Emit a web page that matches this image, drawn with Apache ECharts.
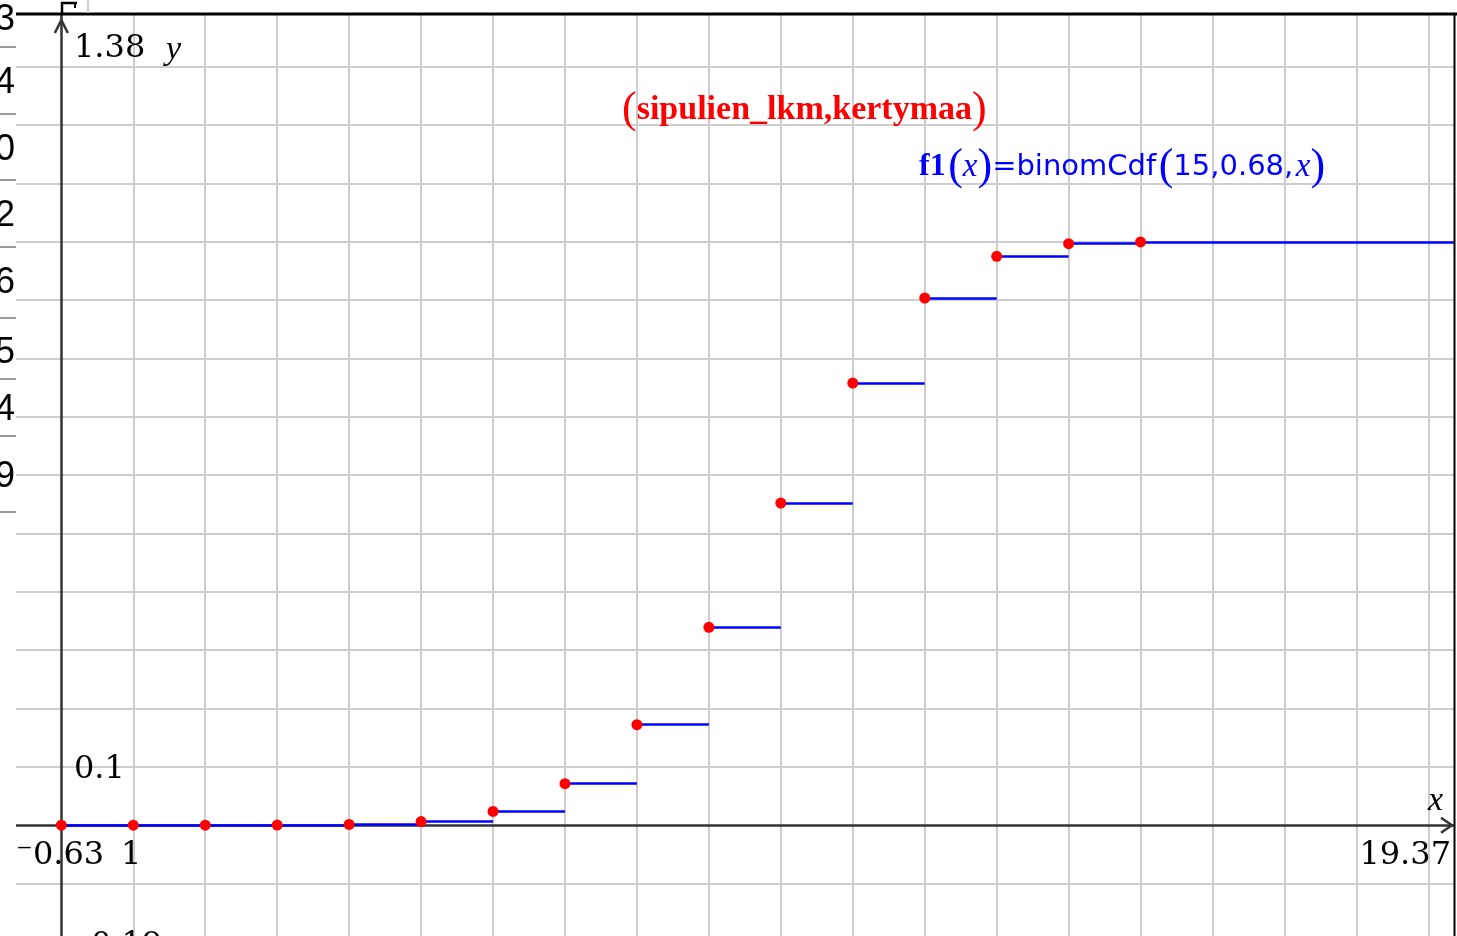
<!DOCTYPE html>
<html>
<head>
<meta charset="utf-8">
<title>binomCdf(15, 0.68, x)</title>
<script src="https://cdn.jsdelivr.net/npm/echarts@6/dist/echarts.min.js"></script>
<style>
  html, body { margin: 0; padding: 0; background: #ffffff; }
  #main { width: 1457px; height: 936px; }
</style>
</head>
<body>
<div id="main"></div>
<script>
// Number of onions k and the cumulative binomial probability P(X <= k), n = 15, p = 0.68
const kValues = [0, 1, 2, 3, 4, 5, 6, 7, 8, 9, 10, 11, 12, 13, 14, 15];
const cdfValues = [0.0000, 0.0000, 0.0000, 0.0002, 0.0012, 0.0062, 0.0236, 0.0711,
                   0.1722, 0.3393, 0.5523, 0.7580, 0.9038, 0.9752, 0.9969, 1.0000];

// Graph window and grid
const xWindow = [-0.63, 19.37];
const yWindow = [-0.19, 1.389];
const xGridLines = [1, 2, 3, 4, 5, 6, 7, 8, 9, 10, 11, 12, 13, 14, 15, 16, 17, 18, 19];
const yGridLines = [-0.1, 0.1, 0.2, 0.3, 0.4, 0.5, 0.6, 0.7, 0.8, 0.9, 1.0, 1.1, 1.2, 1.3];

// Window labels
const yMaxLabel = '1.38';
const yScaleLabel = '0.1';
const xMinLabel = '\u207B0.63';
const xScaleLabel = '1';
const xMaxLabel = '19.37';
const yMinLabel = '\u207B0.19';

// Digits of the neighbouring table column that show at the left edge
const sideColumnDigits = ['03', '4', '0', '2', '6', '5', '4', '9'];

const chart = echarts.init(document.getElementById('main'), null, { renderer: 'canvas' });

// f1(x) = binomCdf(15,0.68,x): one horizontal piece per step, no risers
const stepSegments = kValues.map((k, i) => ({
  coords: [
    [k, cdfValues[i]],
    [i < kValues.length - 1 ? kValues[i + 1] : xWindow[1], cdfValues[i]]
  ]
}));
const points = kValues.map((k, i) => [k, cdfValues[i]]);

chart.setOption({
  animation: false,
  backgroundColor: '#ffffff',
  grid: { left: 16, right: 2, top: 15, bottom: 0, containLabel: false },
  xAxis: { type: 'value', min: xWindow[0], max: xWindow[1], show: false },
  yAxis: { type: 'value', min: yWindow[0], max: yWindow[1], show: false },
  series: [
    {
      name: 'grid',
      type: 'line',
      data: [],
      z: 1,
      silent: true,
      markLine: {
        z: 1,
        silent: true,
        symbol: ['none', 'none'],
        label: { show: false },
        emphasis: { disabled: true },
        lineStyle: { color: '#cdcdcd', width: 2, type: 'solid' },
        data: xGridLines.map(v => ({ xAxis: v })).concat(yGridLines.map(v => ({ yAxis: v })))
      }
    },
    {
      name: 'axes',
      type: 'line',
      data: [],
      z: 2,
      silent: true,
      markLine: {
        z: 2,
        silent: true,
        symbol: ['none', 'none'],
        label: { show: false },
        emphasis: { disabled: true },
        lineStyle: { color: '#333333', width: 2.5, type: 'solid' },
        data: [{ xAxis: 0 }, { yAxis: 0 }]
      }
    },
    {
      name: 'f1',
      type: 'lines',
      coordinateSystem: 'cartesian2d',
      polyline: false,
      z: 3,
      silent: true,
      lineStyle: { color: '#0000ff', width: 2.5, opacity: 1 },
      data: stepSegments
    },
    {
      name: 'kertymaa',
      type: 'scatter',
      z: 4,
      symbol: 'circle',
      symbolSize: 11,
      itemStyle: { color: '#ff0000', opacity: 1 },
      data: points
    }
  ]
});

// Decorations that depend on where the window sits on screen
const origin = chart.convertToPixel({ gridIndex: 0 }, [0, 0]);
const corner = chart.convertToPixel({ gridIndex: 0 }, [xWindow[1], yWindow[1]]);
const oy = origin[1], ox = origin[0];
const topY = corner[1], rightX = corner[0];

const serif = '"DejaVu Serif", serif';
const times = '"Liberation Serif", serif';
const sans = '"DejaVu Sans", sans-serif';

function label(text, x, y, opts) {
  return {
    type: 'text',
    z: 10,
    silent: true,
    style: Object.assign({
      text: text, x: x, y: y,
      fill: '#000000',
      font: '32px ' + serif,
      align: 'left', textAlign: 'left',
      verticalAlign: 'middle', textVerticalAlign: 'middle'
    }, opts || {})
  };
}

const graphics = [];

// frame of the graph window
graphics.push({ type: 'line', z: 9, silent: true,
  shape: { x1: 16, y1: topY - 1, x2: 1457, y2: topY - 1 },
  style: { stroke: '#000000', lineWidth: 3 } });
graphics.push({ type: 'line', z: 9, silent: true,
  shape: { x1: rightX - 0.5, y1: topY - 2, x2: rightX - 0.5, y2: 936 },
  style: { stroke: '#000000', lineWidth: 2 } });

// axis arrow heads
graphics.push({ type: 'polyline', z: 9, silent: true,
  shape: { points: [[ox - 6.5, topY + 18], [ox, topY + 5], [ox + 6.5, topY + 18]] },
  style: { stroke: '#333333', lineWidth: 2.5, fill: null } });
graphics.push({ type: 'polyline', z: 9, silent: true,
  shape: { points: [[rightX - 14, oy - 7.5], [rightX - 3, oy], [rightX - 14, oy + 7.5]] },
  style: { stroke: '#333333', lineWidth: 2.5, fill: null } });

// window labels
graphics.push(label(yMaxLabel, 74, 49));
graphics.push(label('y', 166, 50, { font: 'italic 34px ' + times }));
graphics.push(label(yScaleLabel, 74, 770));
graphics.push(label(xMinLabel, 16, 856));
graphics.push(label(xScaleLabel, 121, 856));
graphics.push(label(xMaxLabel, 1451, 856, { align: 'right', textAlign: 'right' }));
graphics.push(label('x', 1428, 801, { font: 'italic 34px ' + times }));
graphics.push(label(yMinLabel, 74, 946));

// plot labels
graphics.push({
  type: 'text', z: 10, silent: true,
  style: {
    x: 622, y: 110,
    align: 'left', textAlign: 'left', verticalAlign: 'middle', textVerticalAlign: 'middle',
    text: '{p|(}{b|sipulien_lkm,kertymaa}{p|)}',
    rich: {
      p: { fill: '#ff0000', fontFamily: times, fontSize: 44 },
      b: { fill: '#ff0000', fontFamily: times, fontSize: 34, fontWeight: 'bold' }
    }
  }
});
graphics.push({
  type: 'text', z: 10, silent: true,
  style: {
    x: 919, y: 167,
    align: 'left', textAlign: 'left', verticalAlign: 'middle', textVerticalAlign: 'middle',
    text: '{b|f1}{g| }{p|(}{i|x}{p|)}{s|=binomCdf}{g| }{p|(}{s|15,0.68,}{g| }{i|x}{p|)}',
    rich: {
      b: { fill: '#0000ff', fontFamily: times, fontSize: 32, fontWeight: 'bold' },
      g: { fill: '#0000ff', fontFamily: sans, fontSize: 8 },
      p: { fill: '#0000ff', fontFamily: times, fontSize: 44 },
      i: { fill: '#0000ff', fontFamily: times, fontSize: 33, fontStyle: 'italic' },
      s: { fill: '#0000ff', fontFamily: sans, fontSize: 29 }
    }
  }
});

// neighbouring table column, clipped at the left edge
const sideRows = [20, 83, 150, 216, 283, 353, 410, 477];
const sideRules = [47, 114, 180, 247, 318, 379, 436, 512];
sideColumnDigits.forEach((d, i) => {
  graphics.push(label(d, 15, sideRows[i], {
    font: '36px "Liberation Sans", sans-serif', align: 'right', textAlign: 'right'
  }));
});
sideRules.forEach(y => {
  graphics.push({ type: 'line', z: 9, silent: true,
    shape: { x1: 0, y1: y, x2: 16, y2: y },
    style: { stroke: '#9a9a9a', lineWidth: 2 } });
});
// clipped element above the window frame
graphics.push({ type: 'polyline', z: 9, silent: true,
  shape: { points: [[62, topY - 1], [62, 3], [77, 3]] },
  style: { stroke: '#000000', lineWidth: 2.5, fill: null } });
graphics.push({ type: 'line', z: 9, silent: true,
  shape: { x1: 75, y1: 3, x2: 75, y2: 8 },
  style: { stroke: '#000000', lineWidth: 2 } });
graphics.push({ type: 'line', z: 9, silent: true,
  shape: { x1: 88, y1: 0, x2: 88, y2: topY - 2 },
  style: { stroke: '#cdcdcd', lineWidth: 2 } });

chart.setOption({ graphic: { elements: graphics } });
</script>
</body>
</html>
